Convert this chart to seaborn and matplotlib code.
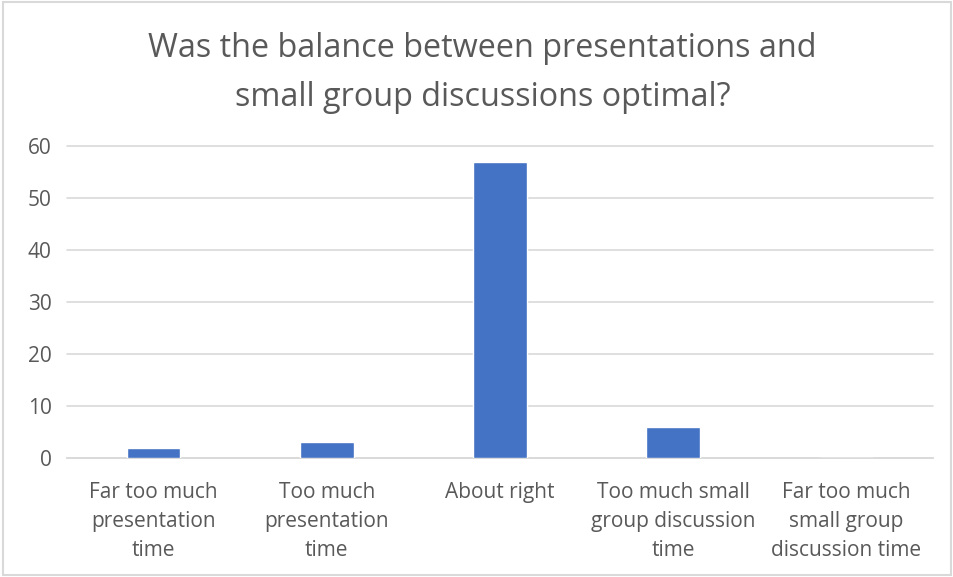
import matplotlib
matplotlib.use("Agg")
import matplotlib.pyplot as plt
import seaborn as sns
import pandas as pd
from matplotlib.patches import Rectangle

categories = ["Far too much\npresentation\ntime",
              "Too much\npresentation\ntime",
              "About right",
              "Too much small\ngroup discussion\ntime",
              "Far too much\nsmall group\ndiscussion time"]
values = [2, 3, 57, 6, 0]
yticks = [0, 10, 20, 30, 40, 50, 60]
title = "Was the balance between presentations and\nsmall group discussions optimal?"

sns.set_style("white")
plt.rcParams['font.family'] = ['Open Sans', 'DejaVu Sans']

df = pd.DataFrame({"cat": categories, "val": values})

fig = plt.figure(figsize=(9.54, 5.77), dpi=100)
ax = fig.add_axes([0.0702, 0.2062, 0.9078, 0.5408])
sns.barplot(data=df, x="cat", y="val", color="#4472C4", width=0.31,
            saturation=1, ax=ax, zorder=3)

ax.set_ylim(0, 60)
ax.set_yticks(yticks)
ax.set_xlim(-0.5, len(categories) - 0.5)
ax.grid(axis="y", color="#d9d9d9", linewidth=1.2, zorder=0)
for s in ["top", "right", "left"]:
    ax.spines[s].set_visible(False)
ax.spines["bottom"].set_color("#d9d9d9")
ax.spines["bottom"].set_linewidth(1.2)
for gl in ax.get_ygridlines():
    gl.set_clip_on(False)
ax.set_xlabel("")
ax.set_ylabel("")
ax.tick_params(axis="both", length=0, labelsize=15, colors="#595959")
ax.tick_params(axis="x", pad=17)
ax.tick_params(axis="y", pad=11)
for lbl in ax.get_xticklabels():
    lbl.set_linespacing(1.5)

fig.text(0.506, 0.945, title, ha="center", va="top", fontsize=23.3,
         color="#595959", linespacing=1.65)

fig.patches.append(Rectangle((0.003, 0.003), 0.994, 0.994, transform=fig.transFigure,
                             fill=False, edgecolor="#d9d9d9", linewidth=1.5))

fig.savefig("out.png", dpi=100)
